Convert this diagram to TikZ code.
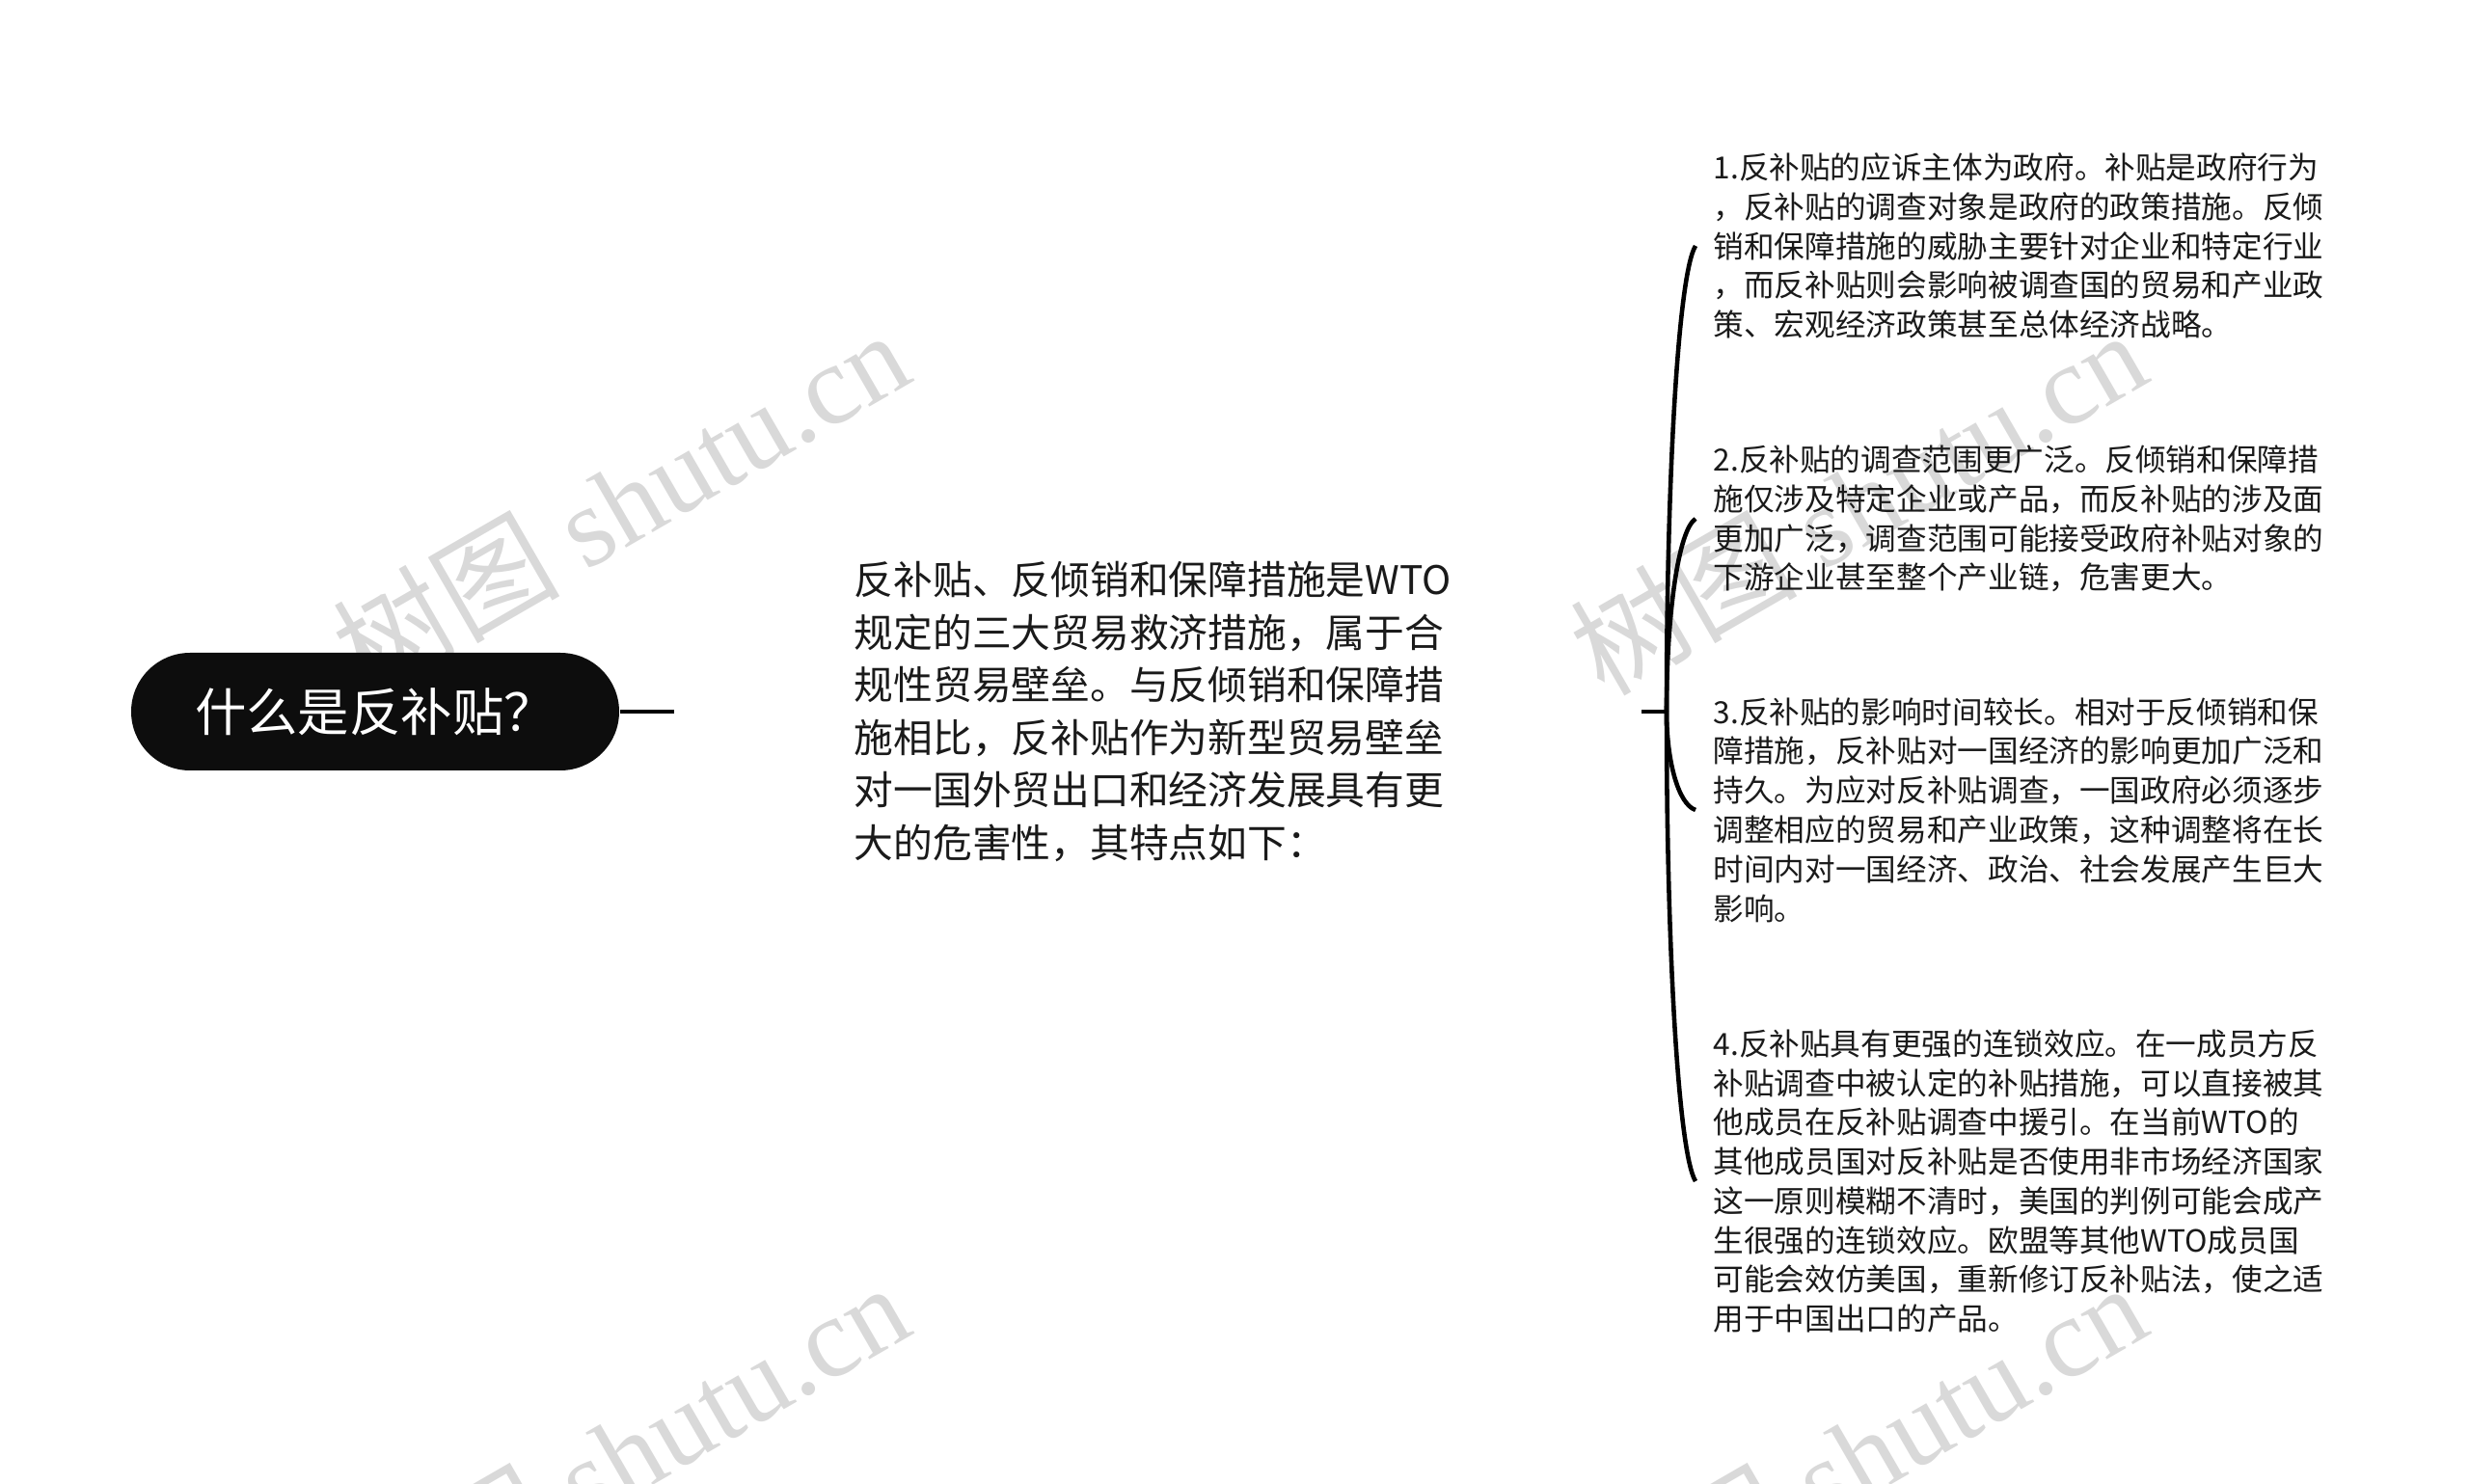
\documentclass[tikz,border=0pt]{standalone}
\usepackage{fontspec}
\setmainfont{Noto Sans CJK SC}
\newfontfamily\wmfont{Liberation Serif}
\definecolor{inkgray}{HTML}{1A1A1A}
\definecolor{markgray}{HTML}{D9D9D9}
\tikzset{
  rootbox/.style={fill=black!95, rounded corners=0.61cm, minimum width=5.06cm, minimum height=1.22cm,
    text=white, font=\fontsize{15.2pt}{18pt}\selectfont, inner sep=0pt},
  maintext/.style={text width=6.3cm, align=left, inner xsep=1.86cm, inner ysep=0pt, anchor=west,
    text=inkgray, font=\fontsize{11.6pt}{15.5pt}\selectfont},
  itemtext/.style={align=left, inner xsep=0.18cm, inner ysep=0pt, anchor=west,
    text=inkgray, font=\fontsize{9pt}{11.6pt}\selectfont},
  branch/.style={line width=1.3pt, black},
  watermark/.style={text=markgray, rotate=30, inner sep=0pt, font=\fontsize{33.5pt}{33.5pt}\selectfont}
}
\begin{document}
\begin{tikzpicture}
    \clip (0,0) rectangle (25.6,15.38);
    % Watermarks
    \node[watermark] (wm1) at (6.43,10.18) {树图 {\wmfont shutu.cn}};
    \node[watermark] (wm2) at (19.26,10.18) {树图 {\wmfont shutu.cn}};
    \node[watermark] (wm3) at (6.43,0.30) {树图 {\wmfont shutu.cn}};
    \node[watermark] (wm4) at (19.26,0.30) {树图 {\wmfont shutu.cn}};
    % Root
    \node[rootbox] (root) at (3.89,8.00) {什么是反补贴？};
    % Main text
    \node[maintext] (main) at (6.99,8.00) {反补贴、反倾销和保障措施是WTO\\规定的三大贸易救济措施，属于合\\规性贸易壁垒。与反倾销和保障措\\施相比，反补贴作为新型贸易壁垒\\对一国外贸出口和经济发展具有更\\大的危害性，其特点如下：};
    \draw[branch] (root.east) -- (main.west);
    \coordinate (jn) at (17.28,8.00);
    \draw[branch] (main.east) -- (jn);
    % Items
    \node[itemtext] (i1) at (17.58,12.83) {1.反补贴的应诉主体为政府。补贴是政府行为\\，反补贴的调查对象是政府的政策措施。反倾\\销和保障措施的威胁主要针对企业和特定行业\\，而反补贴则会影响被调查国的贸易和产业政\\策、宏观经济政策甚至总体经济战略。};
    \node[itemtext] (i2) at (17.58,10.00) {2.反补贴的调查范围更广泛。反倾销和保障措\\施仅涉及特定企业或产品，而反补贴的涉及面\\更加广泛，调查范围可能接受政府补贴对象的\\下游企业甚至整个产业链，危害更大。};
    \node[itemtext] (i3) at (17.58,6.98) {3.反补贴的影响时间较长。相对于反倾销和保\\障措施，反补贴对一国经济的影响更加广泛和\\持久。为应对反补贴调查，一国政府必须逐步\\调整相应的贸易和产业政策，这种调整将在长\\时间内对一国经济、政治、社会发展产生巨大\\影响。};
    \node[itemtext] (i4) at (17.58,3.13) {4.反补贴具有更强的连锁效应。在一成员方反\\补贴调查中被认定的补贴措施，可以直接被其\\他成员在反补贴调查中援引。在当前WTO的\\其他成员国对反补贴是否使用非市场经济国家\\这一原则模糊不清时，美国的判例可能会成产\\生很强的连锁效应。欧盟等其他WTO成员国\\可能会效仿美国，重新修订反补贴法，使之适\\用于中国出口的产品。};
    % Branches
    \draw[branch] (jn) .. controls (17.28,10.41) and (17.40,12.54) .. (i1.west);
    \draw[branch] (jn) .. controls (17.28,9.00) and (17.40,9.88) .. (i2.west);
    \draw[branch] (jn) .. controls (17.28,7.49) and (17.40,7.04) .. (i3.west);
    \draw[branch] (jn) .. controls (17.28,5.57) and (17.40,3.42) .. (i4.west);
\end{tikzpicture}
\end{document}
